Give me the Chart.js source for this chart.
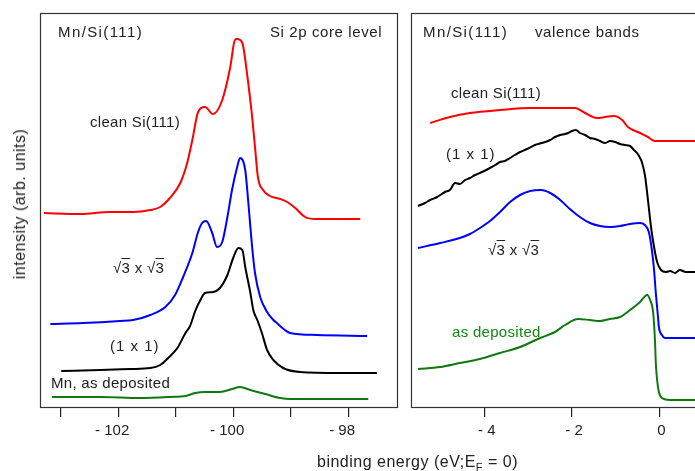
<!DOCTYPE html>
<html><head><meta charset="utf-8">
<script src="https://cdn.jsdelivr.net/npm/chart.js@4/dist/chart.umd.min.js"></script>
<style>
html,body{margin:0;padding:0;width:695px;height:471px;overflow:hidden;background:#fff;}
#wrap{position:relative;width:695px;height:471px;overflow:hidden;}
canvas{position:absolute;top:0;}
#c1{left:0;} #c2{left:405px;}
.t{position:absolute;font-family:"Liberation Sans",Arial,Helvetica,sans-serif;font-size:15px;line-height:16px;color:#222;white-space:nowrap;letter-spacing:0.3px;}
.w{letter-spacing:1.4px;}
.rt{text-decoration:overline;}
.ax{font-size:16px;letter-spacing:0.5px;}
</style></head><body>
<div id="wrap">
<canvas id="c1" width="400" height="471"></canvas>
<canvas id="c2" width="335" height="471"></canvas>
<div class="t w" style="left:58px;top:24px;">Mn/Si(111)</div>
<div class="t" style="left:270px;top:24px;letter-spacing:0.6px;">Si 2p core level</div>
<div class="t" style="left:90px;top:114px;">clean Si(111)</div>
<div class="t" style="left:113px;top:260px;">√<span class="rt">3</span> x √<span class="rt">3</span></div>
<div class="t" style="left:110px;top:338px;letter-spacing:1px;">(1 x 1)</div>
<div class="t" style="left:51px;top:375px;">Mn, as deposited</div>
<div class="t w" style="left:423px;top:24px;">Mn/Si(111)</div>
<div class="t" style="left:535px;top:24px;letter-spacing:0.6px;">valence bands</div>
<div class="t" style="left:451px;top:85px;">clean Si(111)</div>
<div class="t" style="left:446px;top:146px;letter-spacing:1px;">(1 x 1)</div>
<div class="t" style="left:488px;top:242px;">√<span class="rt">3</span> x √<span class="rt">3</span></div>
<div class="t" style="left:452px;top:324px;color:#118811;">as deposited</div>
<div class="t ax" style="left:317px;top:454px;">binding energy (eV;E<sub style="font-size:11px;line-height:0;">F</sub> = 0)</div>
<div class="t ax" style="left:20px;top:204px;transform:translate(-50%,-50%) rotate(-90deg);">intensity (arb. units)</div>
</div>
<script>
// ---- Si 2p core level (left panel) ----
const coreRedE   = [-103.29,-102.66,-102.14,-101.74,-101.44,-101.27,-101.10,-100.92,-100.80,-100.71,-100.61,-100.49,-100.35,-100.19,-100.05,-99.97,-99.93,-99.84,-99.76,-99.67,-99.62,-99.57,-99.48,-99.36,-99.18,-99.06,-98.92,-98.75,-98.57,-97.79];
const coreRedI   = [194,193,195,195,197,200,209,224,244,267,295,300,293,307,340,367,368,364,334,290,260,230,217,211,208,205,199,190,188,188];
const coreBlueE  = [-103.18,-102.61,-101.97,-101.74,-101.44,-101.18,-101.01,-100.87,-100.71,-100.61,-100.54,-100.47,-100.37,-100.28,-100.19,-100.10,-100.02,-99.93,-99.88,-99.79,-99.74,-99.67,-99.62,-99.53,-99.41,-99.30,-99.24,-99.10,-99.01,-98.54,-97.67];
const coreBlueI  = [83,84,86,87,92,100,112,130,154,175,184,186,175,160,165,190,217,240,249,237,207,160,134,110,95,87,84,77,74,72,71];
const coreBlackE = [-102.99,-102.31,-101.79,-101.44,-101.27,-101.13,-100.97,-100.83,-100.75,-100.66,-100.57,-100.49,-100.35,-100.23,-100.10,-100.00,-99.91,-99.84,-99.79,-99.70,-99.65,-99.58,-99.50,-99.41,-99.30,-99.13,-98.84,-98.14,-97.50];
const coreBlackI = [36,37,38,39,42,49,59,74,81,96,107,114,115,119,132,149,159,157,140,114,97,87,74,57,47,39,35,34,34];
const coreGreenE = [-103.15,-102.31,-101.62,-101.10,-100.83,-100.66,-100.49,-100.23,-100.02,-99.88,-99.70,-99.44,-99.18,-99.01,-97.65];
const coreGreenI = [10,10,9,10,11,14,15,15,18,20,17,13,9,8,8];
const coreTicks  = [-103,-102,-101,-100,-99,-98];

// ---- valence bands (right panel) ----
const valRedE   = [-5.25,-4.80,-4.34,-3.65,-2.96,-2.27,-1.93,-1.70,-1.43,-1.24,-1.04,-0.85,-0.72,-0.44,-0.26,-0.10,0.82,1.39];
const valRedI   = [284,290,294,297,299,299,299,294,289,290,291,287,280,274,270,266,266,266];
const valBlackE = [-5.53,-5.37,-5.25,-5.09,-4.91,-4.80,-4.68,-4.57,-4.45,-4.34,-4.22,-4.06,-3.88,-3.76,-3.65,-3.54,-3.42,-3.31,-3.19,-3.03,-2.85,-2.69,-2.50,-2.39,-2.27,-2.16,-2.09,-2.00,-1.91,-1.82,-1.70,-1.59,-1.47,-1.36,-1.24,-1.13,-1.01,-0.90,-0.79,-0.67,-0.58,-0.51,-0.44,-0.40,-0.33,-0.26,-0.19,-0.12,-0.05,0.04,0.15,0.25,0.36,0.47,0.61,0.82,1.39];
const valBlackI = [201,204,207,210,215,217,224,223,227,229,232,235,239,242,245,246,249,252,255,258,262,264,267,270,272,273,274,276,277,274,272,269,268,266,264,266,265,263,262,261,257,254,249,245,232,207,180,160,145,137,135,136,134,137,135,135,135];
const valBlueE  = [-5.53,-5.02,-4.57,-4.34,-4.11,-3.88,-3.65,-3.42,-3.19,-2.96,-2.71,-2.50,-2.27,-2.05,-1.82,-1.59,-1.36,-1.13,-0.90,-0.67,-0.44,-0.33,-0.24,-0.17,-0.12,-0.08,-0.03,-0.01,0.06,0.13,0.82,1.39];
const valBlueI  = [159,164,169,173,179,186,195,205,212,216,217,214,207,198,190,184,181,180,181,183,184,182,175,157,137,114,90,80,72,69,69,69];
const valGreenE = [-5.53,-5.02,-4.57,-4.11,-3.65,-3.19,-2.73,-2.39,-2.16,-1.86,-1.59,-1.36,-1.13,-0.90,-0.67,-0.44,-0.28,-0.21,-0.14,-0.10,-0.08,-0.05,-0.01,0.06,0.25,0.82,1.39];
const valGreenI = [38,40,44,48,54,60,69,75,82,88,87,86,88,90,97,105,112,107,94,67,44,27,15,9,7,7,7];
const valTicks  = [-4,-2,0];

const RED='#ff0000', BLUE='#0000ff', BLACK='#000000', GREEN='#117711';
const pts=(xs,ys)=>xs.map((x,i)=>({x:x,y:ys[i]}));
const ds=(xs,ys,c)=>({data:pts(xs,ys),borderColor:c,borderWidth:2,pointRadius:0,fill:false,cubicInterpolationMode:'monotone'});
const fmt=v=>v<0?'- '+Math.abs(v):String(v);

const boxPlugin={id:'box',afterDraw(chart){const {ctx,chartArea:a}=chart;ctx.save();ctx.strokeStyle='#333';ctx.lineWidth=1.2;ctx.strokeRect(a.left+0.5,a.top+0.5,a.right-a.left,a.bottom-a.top);ctx.restore();}};

function make(id,sets,min,max,ticks,labelled,pad,lblOff){
  return new Chart(document.getElementById(id),{
    type:'line',
    data:{datasets:sets},
    plugins:[boxPlugin],
    options:{
      responsive:false,animation:false,devicePixelRatio:1,
      layout:{padding:pad},
      plugins:{legend:{display:false},tooltip:{enabled:false}},
      scales:{
        x:{type:'linear',min:min,max:max,
          afterBuildTicks:s=>{s.ticks=ticks.map(v=>({value:v}));},
          afterFit:s=>{s.height=64;},
          border:{display:false},
          grid:{drawOnChartArea:false,drawTicks:true,tickLength:10,color:'#222',lineWidth:1.2},
          ticks:{autoSkip:false,maxRotation:0,padding:5,color:'#222',labelOffset:lblOff,
            font:{family:'"Liberation Sans", Arial, sans-serif',size:15},
            callback:v=>labelled(v)?fmt(v):''}
        },
        y:{display:false,min:0,max:394}
      }
    }
  });
}

make('c1',[ds(coreRedE,coreRedI,RED),ds(coreBlueE,coreBlueI,BLUE),ds(coreBlackE,coreBlackI,BLACK),ds(coreGreenE,coreGreenI,GREEN)],
  -103.36,-97.15,coreTicks,v=>v%2===0,{left:40,top:13,right:3,bottom:0},-6);
make('c2',[ds(valRedE,valRedI,RED),ds(valBlackE,valBlackI,BLACK),ds(valBlueE,valBlueI,BLUE),ds(valGreenE,valGreenI,GREEN)],
  -5.69,1.62,valTicks,v=>true,{left:6,top:13,right:10,bottom:0},2);
</script>
</body></html>
